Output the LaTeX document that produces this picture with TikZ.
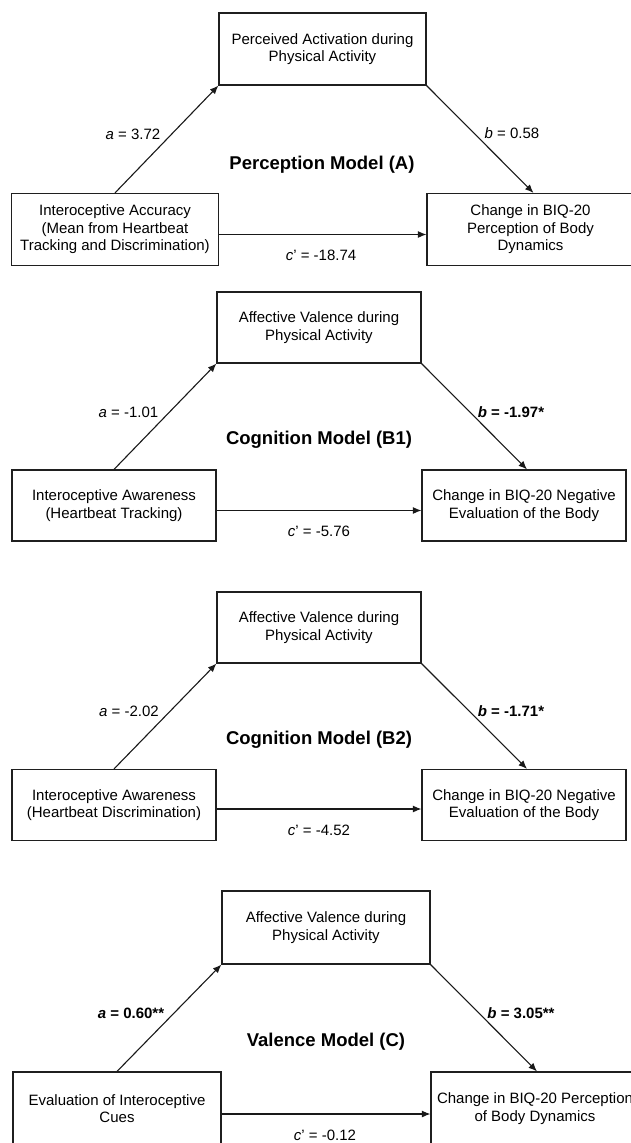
\documentclass[tikz,border=0pt]{standalone}
\usepackage{fontspec}
\setmainfont{Liberation Sans}
\usetikzlibrary{arrows.meta}
\begin{document}
\begin{tikzpicture}[x=1pt,y=-1pt,
  box/.style={draw=black!88, line width=1.2pt, align=center, inner sep=0pt,
    minimum width=206pt, minimum height=72pt,
    font=\fontsize{15}{17.5}\selectfont},
  lab/.style={inner sep=0pt, anchor=base, yshift=-5.4pt, font=\fontsize{15}{17.5}\selectfont},
  ttl/.style={inner sep=0pt, anchor=base, yshift=-6.6pt, font=\fontsize{18.5}{21}\selectfont\bfseries},
  conn/.style={draw=black!90, line width=1.1pt, -{Latex[length=8.5pt,width=7pt]}}]
\path[use as bounding box] (0,0) rectangle (631,1143);
\clip (0,0) rectangle (631,1143);

% ---------- Panel A ----------
\begin{scope}[box/.append style={minimum width=207pt}]
\node[box] (At) at (322.5,49) {Perceived Activation during\\Physical Activity};
\node[box] (Al) at (115,229.5) {Interoceptive Accuracy\\(Mean from Heartbeat\\Tracking and Discrimination)};
\node[box] (Ar) at (530.5,229.5) {Change in BIQ-20\\Perception of Body\\Dynamics};
\end{scope}
\draw[conn] (Al.north) -- (At.south west);
\draw[conn] (At.south east) -- ([xshift=3pt]Ar.north);
\draw[conn] ([yshift=-5pt]Al.east) -- ([yshift=-5pt]Ar.west);
\node[lab] (Aa) at (133,134) {\textit{a} = 3.72};
\node[lab] (Ab) at (512,133) {\textit{b} = 0.58};
\node[ttl] (AT) at (322,163) {Perception Model (A)};
\node[lab] (Ac) at (321,255) {\textit{c}’ = -18.74};

% ---------- Panel B1 ----------
\begin{scope}[box/.append style={minimum width=204pt, minimum height=71pt}]
\node[box] (Bt) at (319,327.5) {Affective Valence during\\Physical Activity};
\node[box] (Bl) at (114,505.5) {Interoceptive Awareness\\(Heartbeat Tracking)};
\node[box] (Br) at (524,505.5) {Change in BIQ-20 Negative\\Evaluation of the Body};
\end{scope}
\draw[conn] (Bl.north) -- (Bt.south west);
\draw[conn] (Bt.south east) -- ([xshift=3pt]Br.north);
\draw[conn] ([yshift=-5pt]Bl.east) -- ([yshift=-5pt]Br.west);
\node[lab] (Ba) at (128.5,412) {\textit{a} = -1.01};
\node[lab] (Bb) at (511,412) {\textbf{\textit{b} = -1.97*}};
\node[ttl] (BT) at (319,438) {Cognition Model (B1)};
\node[lab] (Bc) at (319,531) {\textit{c}’ = -5.76};

% ---------- Panel B2 ----------
\begin{scope}[box/.append style={minimum width=204pt, minimum height=71pt}]
\node[box] (Dt) at (319,627.5) {Affective Valence during\\Physical Activity};
\node[box] (Dl) at (114,805) {Interoceptive Awareness\\(Heartbeat Discrimination)};
\node[box] (Dr) at (524,805) {Change in BIQ-20 Negative\\Evaluation of the Body};
\end{scope}
\draw[conn] (Dl.north) -- (Dt.south west);
\draw[conn] (Dt.south east) -- ([xshift=3pt]Dr.north);
\draw[conn] ([yshift=-4pt]Dl.east) -- ([yshift=-4pt]Dr.west);
\node[lab] (Da) at (129,711) {\textit{a} = -2.02};
\node[lab] (Db) at (511,711) {\textbf{\textit{b} = -1.71*}};
\node[ttl] (DT) at (319,738) {Cognition Model (B2)};
\node[lab] (Dc) at (319,830) {\textit{c}’ = -4.52};

% ---------- Panel C ----------
\begin{scope}[box/.append style={minimum width=208pt, minimum height=73pt}]
\node[box] (Ct) at (326,927.5) {Affective Valence during\\Physical Activity};
\node[box] (Cl) at (117,1108.5) {Evaluation of Interoceptive\\Cues};
\node[box] (Cr) at (535,1108.5) {Change in BIQ-20 Perception\\of Body Dynamics};
\end{scope}
\draw[conn] (Cl.north) -- (Ct.south west);
\draw[conn] (Ct.south east) -- ([xshift=2pt]Cr.north);
\draw[conn] ([yshift=-5.5pt]Cl.east) -- ([yshift=-5.5pt]Cr.west);
\node[lab] (Ca) at (131,1013) {\textbf{\textit{a} = 0.60**}};
\node[lab] (Cb) at (521,1013) {\textbf{\textit{b} = 3.05**}};
\node[ttl] (CT) at (326,1040) {Valence Model (C)};
\node[lab] (Cc) at (325,1135) {\textit{c}’ = -0.12};
\end{tikzpicture}
\end{document}
